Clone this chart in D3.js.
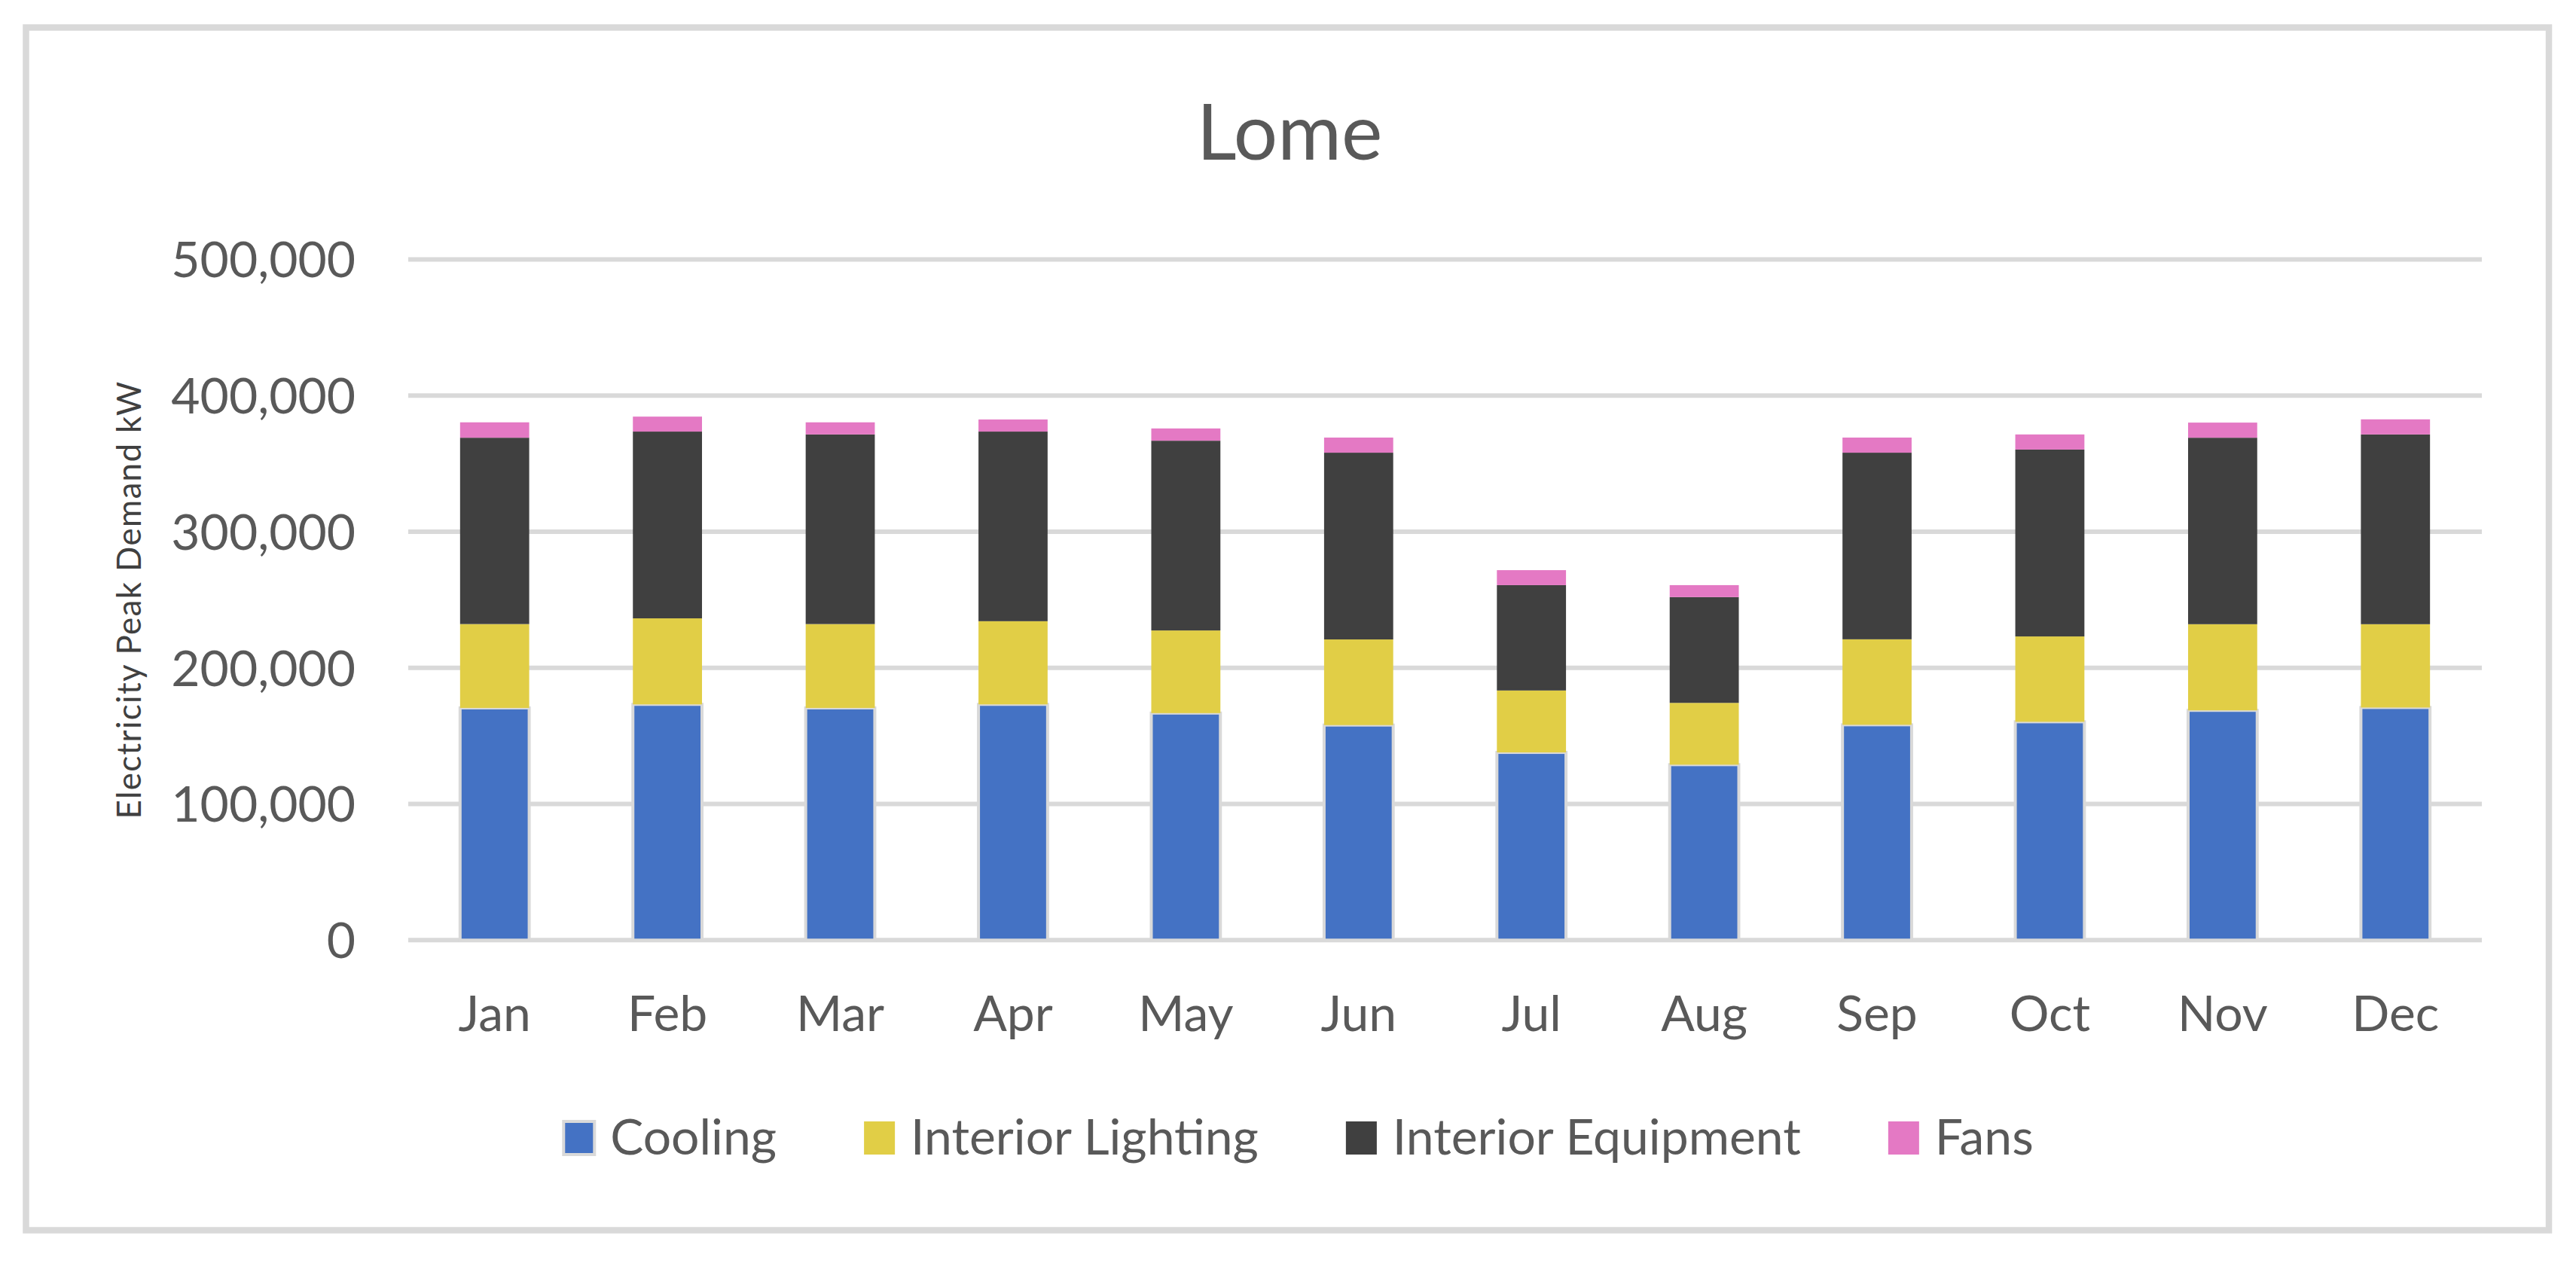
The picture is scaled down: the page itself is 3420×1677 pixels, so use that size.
<!DOCTYPE html>
<html lang="en">
<head>
  <meta charset="UTF-8">
  <title>Lome</title>
  <script src="https://d3js.org/d3.v7.min.js"></script>
  <style>
    body {
      margin: 0;
      background: #ffffff;
      font-family: "Lato", sans-serif;
    }
    .tick-label {
      fill: #595959;
      font-size: 66px;
    }
    .grid line {
      stroke: #d9d9d9;
      stroke-width: 6;
    }
  </style>
</head>
<body>
  <script>
    const months = ["Jan", "Feb", "Mar", "Apr", "May", "Jun", "Jul", "Aug", "Sep", "Oct", "Nov", "Dec"];
    const seriesNames = ["Cooling", "Interior Lighting", "Interior Equipment", "Fans"];
    const seriesColors = ["#4472c4", "#e1ce46", "#404040", "#e479c4"];

    const cooling   = [170600, 173200, 170600, 173200, 166800, 158000, 137900, 128900, 158200, 160400, 168800, 170900];
    const lighting  = [61600, 63200, 61600, 61100, 60700, 62900, 45500, 45400, 62800, 62700, 63300, 61200];
    const equipment = [136900, 137200, 139300, 139300, 139400, 137200, 77400, 77700, 137100, 137300, 137000, 139400];
    const fans      = [11300, 11000, 8900, 8900, 9000, 11100, 11000, 8800, 11100, 11100, 11100, 11100];

    const yTicks = [0, 100000, 200000, 300000, 400000, 500000];

    const W = 3420, H = 1677;
    const plot = {left: 542, right: 3295, top: 344.6, bottom: 1248.3};

    const svg = d3.select("body").append("svg")
      .attr("width", W)
      .attr("height", H);

    // chart border
    svg.append("rect")
      .attr("x", 34.5).attr("y", 36.5)
      .attr("width", 3384 - 34.5).attr("height", 1633.5 - 36.5)
      .attr("fill", "#ffffff")
      .attr("stroke", "#d9d9d9")
      .attr("stroke-width", 8.5);

    const x = d3.scaleBand()
      .domain(months)
      .range([plot.left, plot.right])
      .paddingInner(0.6)
      .paddingOuter(0.3);

    const y = d3.scaleLinear()
      .domain([0, 500000])
      .range([plot.bottom, plot.top]);

    // gridlines
    svg.append("g")
      .attr("class", "grid")
      .selectAll("line")
      .data(yTicks)
      .enter().append("line")
      .attr("x1", plot.left)
      .attr("x2", plot.right)
      .attr("y1", d => y(d))
      .attr("y2", d => y(d));

    // y tick labels
    svg.append("g")
      .selectAll("text")
      .data(yTicks)
      .enter().append("text")
      .attr("class", "tick-label")
      .attr("x", 472)
      .attr("y", d => y(d))
      .attr("dy", "0.36em")
      .attr("text-anchor", "end")
      .text(d => d3.format(",")(d));

    // stacked bars
    const rows = months.map((m, i) => ({
      month: m,
      "Cooling": cooling[i],
      "Interior Lighting": lighting[i],
      "Interior Equipment": equipment[i],
      "Fans": fans[i]
    }));

    const stacked = d3.stack().keys(seriesNames)(rows);

    svg.append("g")
      .selectAll("g")
      .data(stacked)
      .enter().append("g")
      .attr("fill", (d, i) => seriesColors[i])
      .each(function (layer, i) {
        d3.select(this).selectAll("rect")
          .data(layer)
          .enter().append("rect")
          .attr("x", d => x(d.data.month))
          .attr("width", x.bandwidth())
          .attr("y", d => y(d[1]))
          .attr("height", d => y(d[0]) - y(d[1]))
          .attr("stroke", i === 0 ? "#d9d9d9" : "none")
          .attr("stroke-width", i === 0 ? 4 : 0);
      });

    // month labels
    svg.append("g")
      .selectAll("text")
      .data(months)
      .enter().append("text")
      .attr("class", "tick-label")
      .attr("x", d => x(d) + x.bandwidth() / 2)
      .attr("y", 1369)
      .attr("text-anchor", "middle")
      .text(d => d);

    // title
    svg.append("text")
      .attr("x", 1712)
      .attr("y", 212)
      .attr("text-anchor", "middle")
      .attr("fill", "#595959")
      .style("font-size", "103px")
      .text("Lome");

    // y axis title
    svg.append("text")
      .attr("transform", "translate(187," + ((plot.top + plot.bottom) / 2) + ") rotate(-90)")
      .attr("text-anchor", "middle")
      .attr("fill", "#404040")
      .style("font-size", "44px")
      .style("letter-spacing", "1.3px")
      .text("Electricity Peak Demand kW");

    // legend
    const legend = svg.append("g");
    const sw = 41, gapText = 21, gapItem = 116;
    let cursor = 0;
    seriesNames.forEach((name, i) => {
      const g = legend.append("g");
      g.append("rect")
        .attr("x", 0).attr("y", 1489)
        .attr("width", sw).attr("height", 44)
        .attr("fill", seriesColors[i])
        .attr("stroke", i === 0 ? "#d9d9d9" : "none")
        .attr("stroke-width", i === 0 ? 4 : 0);
      const t = g.append("text")
        .attr("class", "tick-label")
        .attr("x", sw + gapText)
        .attr("y", 1533)
        .text(name);
      const w = sw + gapText + t.node().getComputedTextLength();
      g.attr("transform", "translate(" + cursor + ",0)");
      cursor += w + gapItem;
    });
    const total = cursor - gapItem;
    legend.attr("transform", "translate(" + (1724 - total / 2) + ",0)");
  </script>
</body>
</html>
